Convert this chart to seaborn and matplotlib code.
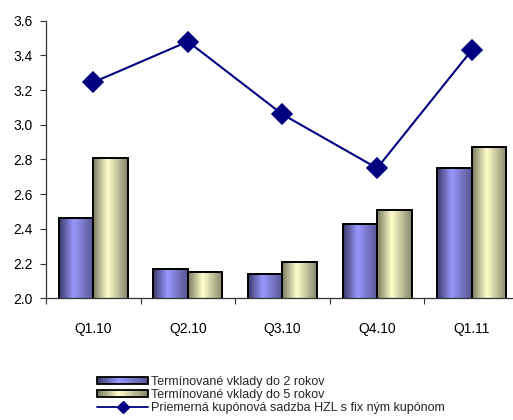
import matplotlib
matplotlib.use("Agg")
import matplotlib.pyplot as plt
import numpy as np
import pandas as pd
import seaborn as sns
from matplotlib.colors import to_rgb
from matplotlib.legend_handler import HandlerBase
from matplotlib.lines import Line2D
from matplotlib.patches import Patch, Rectangle

# data
quarters = ["Q1.10", "Q2.10", "Q3.10", "Q4.10", "Q1.11"]
deposits_2y = [2.46, 2.17, 2.14, 2.43, 2.75]
deposits_5y = [2.81, 2.15, 2.21, 2.51, 2.87]
hzl_rate = [3.245, 3.48, 3.06, 2.75, 3.43]

label_2y = "Termínované vklady do 2 rokov"
label_5y = "Termínované vklady do 5 rokov"
label_hzl = "Priemerná kupónová sadzba HZL s fix ným kupónom"

Y_MIN, Y_MAX = 2.0, 3.6

# horizontal shading stops: (left, highlight, right)
GRAD = {
    label_2y: ("#3a3a6a", "#9999ff", "#555590"),
    label_5y: ("#7a7a60", "#ffffcc", "#86866c"),
}


def gradient_row(stops, n=64, peak=0.42):
    left, mid, right = (np.array(to_rgb(c)) for c in stops)
    t = np.linspace(0, 1, n)
    rows = []
    for v in t:
        if v <= peak:
            f = v / peak
            rows.append(left * (1 - f) + mid * f)
        else:
            f = (v - peak) / (1 - peak)
            rows.append(mid * (1 - f) + right * f)
    return np.array(rows)


class GradientHandler(HandlerBase):
    def __init__(self, stops, **kw):
        super().__init__(**kw)
        self.stops = stops

    def create_artists(self, legend, orig_handle, xdescent, ydescent,
                       width, height, fontsize, trans):
        cols = gradient_row(self.stops, n=24)
        h = height * 0.8
        y0 = -ydescent + (height - h) / 2
        artists = []
        w = width / len(cols)
        for i, c in enumerate(cols):
            artists.append(Rectangle((-xdescent + i * w, y0), w * 1.05, h,
                                     facecolor=c, edgecolor="none", transform=trans))
        artists.append(Rectangle((-xdescent, y0), width, h, facecolor="none",
                                 edgecolor="black", linewidth=1.3, transform=trans))
        return artists


sns.set_theme(style="ticks")
plt.rcParams["font.family"] = ["Liberation Sans", "DejaVu Sans"]

df = pd.DataFrame({
    "quarter": quarters * 2,
    "series": [label_2y] * len(quarters) + [label_5y] * len(quarters),
    "value": deposits_2y + deposits_5y,
})

fig = plt.figure(figsize=(5.13, 4.2), dpi=100)
ax = fig.add_axes([46 / 513, 0.2898, 473 / 513, 0.6609])

sns.barplot(data=df, x="quarter", y="value", hue="series",
            palette=["#9999ff", "#ffffcc"], width=0.73, gap=0,
            edgecolor="black", linewidth=1.4, legend=False, ax=ax)

# fake the cylinder-like shading of the original bars
for container, name in zip(ax.containers, [label_2y, label_5y]):
    img = gradient_row(GRAD[name])[None, :, :]
    for bar in container:
        x0 = bar.get_x()
        x1 = x0 + bar.get_width()
        y1 = bar.get_height()
        im = ax.imshow(img, extent=[x0, x1, Y_MIN, y1], aspect="auto",
                       interpolation="bilinear", zorder=1.5)
        im.set_clip_path(bar)
        bar.set_facecolor("none")
        bar.set_zorder(1.6)

sns.pointplot(x=quarters, y=hzl_rate, color="#000080", markers="D",
              markersize=10, linewidth=1.5, errorbar=None, ax=ax)
for ln in ax.lines:
    ln.set_zorder(3)

ax.set_xlim(-0.5, len(quarters) - 0.5)
ax.set_ylim(Y_MIN, Y_MAX)
yticks = np.arange(Y_MIN, Y_MAX + 0.01, 0.2)
ax.set_yticks(yticks)
ax.set_yticklabels([f"{v:.1f}" for v in yticks])
ax.set_xticks(range(len(quarters)))
ax.set_xticklabels(quarters)
ax.set_xticks(np.arange(-0.5, len(quarters), 1.0), minor=True)
ax.tick_params(axis="x", which="major", length=0, pad=17, labelsize=10, labelcolor="black")
ax.tick_params(axis="x", which="minor", length=4.5, width=0.8, color="#333333")
ax.tick_params(axis="y", length=4.5, width=0.8, pad=5, labelsize=10, color="#333333",
               labelcolor="black")
ax.set_xlabel("")
ax.set_ylabel("")
sns.despine(ax=ax)
for side in ("left", "bottom"):
    ax.spines[side].set_color("#333333")
    ax.spines[side].set_linewidth(0.9)

h_2y = Patch(label=label_2y)
h_5y = Patch(label=label_5y)
h_hzl = Line2D([], [], color="#000080", marker="D", markersize=6.5, linewidth=1.3,
               label=label_hzl)
fig.legend(handles=[h_2y, h_5y, h_hzl], labels=[label_2y, label_5y, label_hzl],
           handler_map={h_2y: GradientHandler(GRAD[label_2y]),
                        h_5y: GradientHandler(GRAD[label_5y])},
           loc="upper left", bbox_to_anchor=(92 / 513, 1 - 371 / 420),
           frameon=False, fontsize=9, handlelength=4.1, handleheight=0.75,
           handletextpad=0.25, labelspacing=0.08, borderaxespad=0)

fig.savefig("out.png", dpi=100)
